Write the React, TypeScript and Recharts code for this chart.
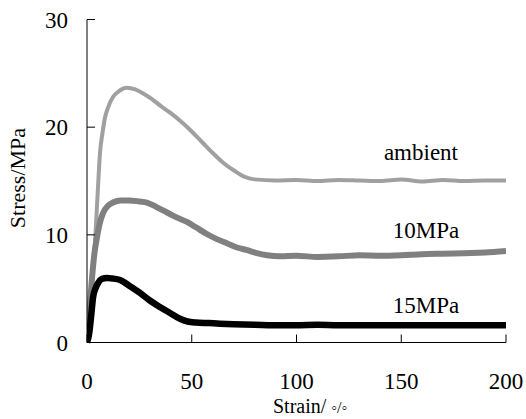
import { Label, Line, LineChart, ReferenceDot, XAxis, YAxis } from "recharts";

// stress-strain curves (strain in %, stress in MPa)
const ambientStrain = [0, 1, 2, 3, 3.8, 5, 6.2, 7.5, 8.6, 10, 12.4, 15, 19, 23, 27, 31, 35, 40, 45, 50, 55, 60, 65, 70, 75, 80, 90, 100, 110, 120, 130, 140, 150, 160, 170, 180, 190, 200];
const ambientStress = [0, 1.8, 4.2, 7.0, 9.2, 13.5, 17.6, 19.6, 20.9, 21.8, 22.8, 23.3, 23.65, 23.5, 23.1, 22.6, 22.0, 21.3, 20.5, 19.6, 18.6, 17.6, 16.7, 16.0, 15.4, 15.15, 15.05, 15.1, 15.0, 15.1, 15.05, 15.0, 15.15, 14.95, 15.1, 15.0, 15.05, 15.05];

const mpa10Strain = [0, 1, 2.4, 3.5, 4.8, 6, 7.6, 10, 12.4, 16, 20, 25, 28.6, 33, 38, 43, 47.7, 52, 57, 62, 67, 72, 76, 81, 86, 92, 100, 110, 120, 130, 140, 150, 160, 170, 180, 190, 200];
const mpa10Stress = [0, 2.5, 6.0, 8.2, 9.8, 11.0, 12.0, 12.7, 13.0, 13.2, 13.2, 13.1, 13.0, 12.6, 12.1, 11.6, 11.2, 10.7, 10.1, 9.6, 9.2, 8.8, 8.6, 8.3, 8.1, 8.0, 8.05, 7.95, 8.0, 8.1, 8.05, 8.1, 8.2, 8.25, 8.3, 8.35, 8.5];

const mpa15Strain = [0, 1, 2, 2.9, 4, 5.2, 7, 9.5, 12, 15.8, 20, 25.3, 30, 34.8, 40, 44.4, 48, 52, 58, 63.5, 70, 80, 92, 100, 110, 120, 140, 160, 180, 200];
const mpa15Stress = [0, 0.8, 2.5, 4.2, 5.0, 5.5, 5.9, 6.0, 5.95, 5.8, 5.3, 4.6, 3.9, 3.3, 2.7, 2.2, 1.95, 1.85, 1.8, 1.75, 1.7, 1.65, 1.6, 1.6, 1.65, 1.6, 1.6, 1.6, 1.6, 1.6];

const xTicks = [0, 50, 100, 150, 200];
const yTicks = [0, 10, 20, 30];

const seriesNames = ["ambient", "10MPa", "15MPa"];
// label anchor points in data units
const labelStrain = [159.4, 161.8, 161.8];
const labelStress = [17.7, 10.5, 3.5];

const toRows = (xs: number[], ys: number[]) => xs.map((strain, i) => ({ strain, stress: ys[i] }));

const ambientData = toRows(ambientStrain, ambientStress);
const mpa10Data = toRows(mpa10Strain, mpa10Stress);
const mpa15Data = toRows(mpa15Strain, mpa15Stress);

const FONT = "Liberation Serif, Times New Roman, serif";

function YTitle(props: any) {
  const vb = props.viewBox;
  const x = vb.x + 17;
  const y = vb.y + vb.height / 2 - 3;
  return (
    <text
      x={x}
      y={y}
      transform={`rotate(-90, ${x}, ${y})`}
      textAnchor="middle"
      dominantBaseline="central"
      style={{ fontSize: 22, fontFamily: FONT, fontWeight: 400 }}
      fill="#000"
    >
      Stress/MPa
    </text>
  );
}

function XTitle(props: any) {
  const vb = props.viewBox;
  return (
    <text x={vb.x + 186} y={vb.y + 70} style={{ fontSize: 20, fontFamily: FONT }} fill="#000">
      Strain/ <tspan style={{ fontSize: 16 }}>◦/◦</tspan>
    </text>
  );
}

const tickStyle = { fontSize: 23, fill: "#000", style: { fontFamily: FONT, fontWeight: 400 } };

export default function App() {
  return (
    <div
      style={{
        position: "absolute",
        left: 0,
        top: 0,
        width: 526,
        height: 419,
        background: "#fff",
        fontFamily: FONT,
      }}
    >
      <LineChart
        width={526}
        height={419}
        margin={{ top: 19.5, right: 20, bottom: 0, left: 0 }}
        style={{ fontFamily: FONT }}
      >
        <XAxis
          dataKey="strain"
          type="number"
          domain={[0, 200]}
          ticks={xTicks}
          allowDataOverflow
          height={76.5}
          stroke="#000"
          tickSize={-8}
          tickMargin={38}
          tick={tickStyle}
        >
          <Label content={XTitle} />
        </XAxis>
        <XAxis xAxisId="top" orientation="top" type="number" domain={[0, 200]} height={0} stroke="#000" tick={false} tickLine={false} />
        <YAxis
          type="number"
          domain={[0, 30]}
          ticks={yTicks}
          width={87}
          stroke="#000"
          tickSize={-8}
          tickMargin={27}
          tick={tickStyle}
        >
          <Label content={YTitle} />
        </YAxis>
        <YAxis yAxisId="right" orientation="right" type="number" domain={[0, 30]} width={0} stroke="#000" tick={false} tickLine={false} />

        <Line data={ambientData} dataKey="stress" type="monotone" stroke="#a0a0a0" strokeWidth={4} dot={false} isAnimationActive={false} />
        <Line data={mpa10Data} dataKey="stress" type="monotone" stroke="#808080" strokeWidth={6} dot={false} isAnimationActive={false} />
        <Line data={mpa15Data} dataKey="stress" type="monotone" stroke="#000" strokeWidth={6.5} dot={false} isAnimationActive={false} />

        {seriesNames.map((name, i) => (
          <ReferenceDot
            key={name}
            x={labelStrain[i]}
            y={labelStress[i]}
            r={0}
            stroke="none"
            label={{ value: name, position: "center", fontSize: 23, fill: "#000", style: { fontFamily: FONT } }}
          />
        ))}
      </LineChart>
    </div>
  );
}
